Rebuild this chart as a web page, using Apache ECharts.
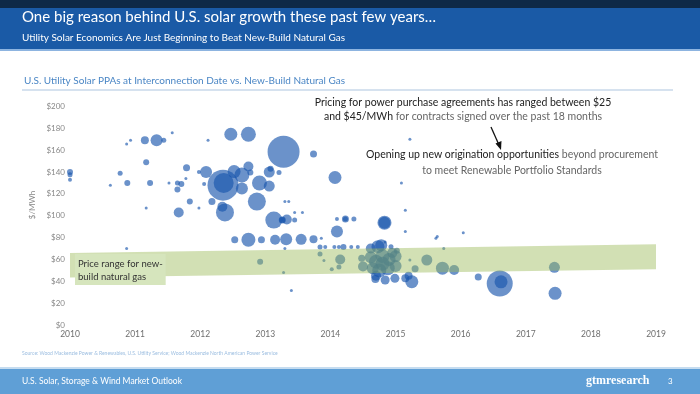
<!DOCTYPE html>
<html><head><meta charset="utf-8">
<script src="https://cdn.jsdelivr.net/npm/echarts@6/dist/echarts.min.js"></script>
<style>html,body{margin:0;padding:0;background:#fff}#c{width:700px;height:394px}</style>
</head><body><div id="c"></div>
<script>
// Year ticks
const yearTicks = [2010,2011,2012,2013,2014,2015,2016,2017,2018,2019];
const priceTicks = [0,20,40,60,80,100,120,140,160,180,200];

// PPA bubbles: interconnection year, price ($/MWh), bubble size
const ppaYear = [
 2010.0,2010.0,2010.0,2010.62,2010.77,2010.87,2010.93,2010.88,2010.87,
 2011.15,2011.33,2011.44,2011.57,2011.17,2011.23,2011.17,2011.52,2011.65,2011.71,2011.79,2011.65,2011.78,2011.84,2011.67,2011.98,2011.98,
 2012.12,2012.09,2012.06,2012.18,2012.35,2012.36,2012.52,2012.64,2012.64,2012.74,2012.77,2012.34,2012.38,2012.47,2012.74,2012.87,2012.91,2012.53,2012.74,2012.94,2012.92,
 2013.06,2013.06,2013.08,2013.21,2013.28,2013.74,2013.13,2013.26,2013.26,2013.33,2013.45,2013.30,2013.36,2013.45,2013.57,2013.15,2013.32,2013.55,2013.74,2013.86,2013.84,2013.92,2013.40,2013.28,2013.30,2013.84,2013.90,
 2014.07,2014.10,2014.23,2014.23,2014.36,2014.10,2014.06,2014.13,2014.20,2014.32,2014.42,2014.15,2014.13,2014.02,2014.48,2014.50,2014.62,2014.73,2014.78,2014.84,2014.93,2015.02,2014.83,2014.83,2015.15,2015.15,2015.09,2015.22,
 2014.62,2014.70,2014.80,2014.90,2015.00,2014.65,2014.75,2014.88,2015.00,2014.95,2014.80,2014.70,2014.69,2014.84,2014.99,2015.15,2015.25,2015.20,2015.22,2015.30,2015.48,2015.72,2015.90,
 2015.62,2015.64,2015.74,2016.04,2016.27,2016.60,2016.62,2017.44,2017.45
];
const ppaPrice = [
 140,137.5,133,128,139,165.7,169,130,70,
 169,169,169,176,149,130,107,130,130,129,144,124,134,113,103,107,140,
 169,140,129,113,128,130,140.4,125,137.3,145,139.5,108.3,103,174.6,174.6,113,130,78,78,78,58,
 140,127.2,143,139.5,158.6,156.5,96,96,96,96.5,96,113,113,103,103,78,78.4,78.4,78.4,79.3,71.5,71.5,31.5,48,70,65,59,
 135,97,97,97,97,85.5,71.5,71.5,71.5,71.5,71.5,60,53,51,61,53.5,70,71.7,73,76,71.7,68,93.6,93.6,105,85.5,130,170,
 62,58,63,60,63,52,50,52,54,66,56,45,42,41.2,42.7,42.7,39.6,45,59.5,51.5,59.5,52,50.3,
 79.4,81,70,84.5,44,38,39.5,52.8,29
];
const ppaSize = [
 6,5,4,3,5,3,3,6,3,
 8,12,5,3,6,6,3,3,5,6,7,6,3,6,10,3,4,
 3,12,4,7,31,20,13,12,15,10,6,10,18,13,15,18,15,7,14,7,6,
 11,11,6,5,32,7,17,7,6,10,5,3,3,3,3,10,12,11,8,3,5,4,3,3,3,5,3,
 13,4,7,5,5,12,4,4,6,4,4,10,5,4,7,10,10,13,12,3,5,6,14,12,3,3,3,3,
 12,14,14,13,12,12,14,14,12,10,14,10,8,9,9,8,13,8,3,7,11,13,10,
 3,3,3,3,7,26,13,11,13
];

// New-build natural gas price range band
const gasYear = [2010, 2019];
const gasLow = [43.5, 51];
const gasHigh = [66, 74];

const chart = echarts.init(document.getElementById('c'), null, {renderer:'canvas'});
const font = 'Lato, "Open Sans", sans-serif';

const option = {
  animation: false,
  backgroundColor: '#ffffff',
  grid: {left: 70, right: 44, top: 106.5, bottom: 69},
  xAxis: {
    type: 'value', min: yearTicks[0], max: yearTicks[yearTicks.length-1], interval: 1,
    axisLine: {show: false}, axisTick: {show: false}, splitLine: {show: false},
    axisLabel: {color: '#6f6f6f', fontSize: 8.5, fontFamily: font, margin: 5, formatter: v => String(v)}
  },
  yAxis: {
    type: 'value', min: priceTicks[0], max: priceTicks[priceTicks.length-1], interval: 20,
    axisLine: {show: false}, axisTick: {show: false}, splitLine: {show: false},
    axisLabel: {color: '#888', fontSize: 8, fontFamily: font, margin: 5, formatter: v => '$' + v}
  },
  series: [
    {
      type: 'scatter', z: 2,
      data: ppaYear.map((x, i) => [x, ppaPrice[i], ppaSize[i]]),
      symbolSize: d => d[2],
      itemStyle: {color: 'rgba(24,84,172,0.8)'}
    },
    {
      type: 'custom', z: 3, silent: true,
      data: [[gasYear[0], gasLow[0]]],
      renderItem: function (params, api) {
        const top = gasYear.map((y, i) => api.coord([y, gasHigh[i]]));
        const bot = gasYear.map((y, i) => api.coord([y, gasLow[i]])).reverse();
        return {type: 'polygon', shape: {points: top.concat(bot)}, style: {fill: 'rgba(155,187,89,0.45)'}};
      }
    }
  ],
  graphic: [
    {type: 'rect', shape: {x: 0, y: 0, width: 700, height: 8}, style: {fill: '#0e2947'}, z: 10},
    {type: 'rect', shape: {x: 0, y: 8, width: 700, height: 41}, style: {fill: '#1a5aa6'}, z: 10},
    {type: 'rect', shape: {x: 0, y: 49, width: 700, height: 2}, style: {fill: '#8db4e0'}, z: 10},
    {type: 'text', left: 22, top: 10, z: 11, style: {text: 'One big reason behind U.S. solar growth these past few years…', fill: '#fff', font: '15px ' + font}},
    {type: 'text', left: 22, top: 33, z: 11, style: {text: 'Utility Solar Economics Are Just Beginning to Beat New-Build Natural Gas', fill: '#fff', font: '10px ' + font}},
    {type: 'text', left: 24, top: 76, z: 11, style: {text: 'U.S. Utility Solar PPAs at Interconnection Date vs. New-Build Natural Gas', fill: '#4a86c5', font: '10px ' + font}},
    {type: 'line', shape: {x1: 22, y1: 90, x2: 673, y2: 90}, style: {stroke: '#c9d8ea', lineWidth: 1.5}, z: 11},
    {type: 'text', x: 463, y: 96, z: 11, style: {
      text: '{b|Pricing for power purchase agreements has ranged between $25}\n{b|and $45/MWh}{g| for contracts signed over the past 18 months}',
      align: 'center', font: '10.5px ' + font,
      rich: {b: {fill: '#222', fontSize: 10.5, fontFamily: font, lineHeight: 14}, g: {fill: '#666', fontSize: 10.5, fontFamily: font, lineHeight: 14}}
    }},
    {type: 'line', shape: {x1: 491, y1: 127, x2: 499, y2: 145}, style: {stroke: '#111', lineWidth: 1.3}, z: 11},
    {type: 'polygon', shape: {points: [[501, 150], [495.5, 143.5], [501.5, 141]]}, style: {fill: '#111'}, z: 11},
    {type: 'text', x: 512, y: 147, z: 11, style: {
      text: '{b|Opening up new origination opportunities}{g| beyond procurement}\n{g|to meet Renewable Portfolio Standards}',
      align: 'center', font: '10.5px ' + font,
      rich: {b: {fill: '#222', fontSize: 10.5, fontFamily: font, lineHeight: 16}, g: {fill: '#666', fontSize: 10.5, fontFamily: font, lineHeight: 16}}
    }},
    {type: 'text', x: 32, y: 205, rotation: Math.PI / 2, z: 11, style: {text: '$/MWh', fill: '#888', font: '8px ' + font, align: 'center', verticalAlign: 'middle'}},
    {type: 'text', left: 75, top: 254, z: 12, style: {
      text: 'Price range for new-\nbuild natural gas', fill: '#333', font: '9.5px ' + font, lineHeight: 13,
      backgroundColor: '#d6e5bd', padding: [3, 3, 2, 3]
    }},
    {type: 'text', left: 22, top: 351, z: 11, style: {text: 'Source: Wood Mackenzie Power & Renewables, U.S. Utility Service; Wood Mackenzie North American Power Service', fill: '#9bbde0', font: '5px ' + font}},
    {type: 'rect', shape: {x: 0, y: 367, width: 700, height: 2}, style: {fill: '#c5dcf0'}, z: 10},
    {type: 'rect', shape: {x: 0, y: 369, width: 700, height: 25}, style: {fill: '#5f9fd6'}, z: 10},
    {type: 'text', left: 22, top: 377, z: 11, style: {text: 'U.S. Solar, Storage & Wind Market Outlook', fill: '#fff', font: '8.5px ' + font}},
    {type: 'text', left: 586, top: 375, z: 11, style: {text: 'gtmresearch', fill: '#fff', font: 'bold 12px "Liberation Serif", serif'}},
    {type: 'text', left: 668, top: 377, z: 11, style: {text: '3', fill: '#fff', font: '8px ' + font}}
  ]
};
chart.setOption(option);
</script>
</body></html>
